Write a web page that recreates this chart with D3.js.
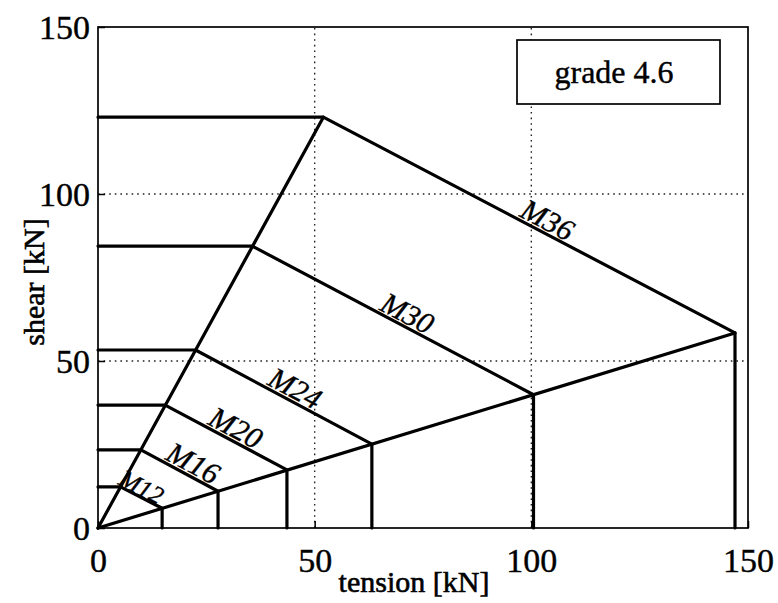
<!DOCTYPE html>
<html><head><meta charset="utf-8">
<script src="https://cdn.jsdelivr.net/npm/d3@7"></script>
<style>body{margin:0;background:#fff;}svg{display:block;}</style>
</head><body>
<svg id="c" width="778" height="603"></svg>
<script>
const bolts = ["M12","M16","M20","M24","M30","M36"];
const shearMax = [12.3, 23.4, 36.8, 53.3, 84.4, 123.0];
const tensionAtShearMax = [5.2, 9.9, 15.5, 22.5, 35.6, 52.0];
const tensionMax = [14.8, 27.7, 43.6, 63.2, 100.5, 147.0];
const shearAtTensionMax = [5.9, 11.0, 17.4, 25.1, 39.9, 58.4];
const xTicks = [0, 50, 100, 150];
const yTicks = [0, 50, 100, 150];
const legendText = "grade 4.6";

const svg = d3.select("#c");
const m = {l:98, r:748, t:27, b:528};
const x = d3.scaleLinear().domain([0,150]).range([m.l, m.r]);
const y = d3.scaleLinear().domain([0,150]).range([m.b, m.t]);
const serif = "'Liberation Serif','DejaVu Serif',serif";

// grid
const g = svg.append("g");
g.selectAll(".gx").data(xTicks.slice(1,3)).join("line")
  .attr("x1", d=>x(d)).attr("x2", d=>x(d)).attr("y1", y(0)).attr("y2", y(150))
  .attr("stroke","#222").attr("stroke-width",1.4).attr("stroke-dasharray","1.6,4");
g.selectAll(".gy").data(yTicks.slice(1,3)).join("line")
  .attr("y1", d=>y(d)).attr("y2", d=>y(d)).attr("x1", x(0)).attr("x2", x(150))
  .attr("stroke","#222").attr("stroke-width",1.4).attr("stroke-dasharray","1.6,4");

// axes (ticks inside)
const xAxis = d3.axisBottom(x).tickValues(xTicks).tickSizeInner(-7).tickSizeOuter(0).tickPadding(20).tickFormat(d3.format("d"));
const yAxis = d3.axisLeft(y).tickValues(yTicks).tickSizeInner(-7).tickSizeOuter(0).tickPadding(8).tickFormat(d3.format("d"));
const ax = svg.append("g").attr("transform",`translate(0,${y(0)})`).call(xAxis);
const ay = svg.append("g").attr("transform",`translate(${x(0)},0)`).call(yAxis);
[ax, ay].forEach(a => {
  a.select(".domain").remove();
  a.selectAll("line").attr("stroke","#000").attr("stroke-width",1.5);
  a.selectAll("text").attr("font-family", serif).attr("font-size", 34).attr("fill","#000")
    .attr("stroke","#000").attr("stroke-width",0.4);
});
ax.selectAll("text").attr("dy","0.72em");
ay.selectAll("text").attr("dy","0.34em");

// frame
svg.append("rect").attr("x", x(0)).attr("y", y(150)).attr("width", x(150)-x(0)).attr("height", y(0)-y(150))
  .attr("fill","none").attr("stroke","#000").attr("stroke-width",1.7);

// data lines
const lines = svg.append("g").attr("stroke","#000").attr("stroke-width",3.2).attr("fill","none").attr("stroke-linecap","round");
const n = bolts.length;
lines.append("line").attr("x1", x(0)).attr("y1", y(0)).attr("x2", x(tensionAtShearMax[n-1])).attr("y2", y(shearMax[n-1]));
lines.append("line").attr("x1", x(0)).attr("y1", y(0)).attr("x2", x(tensionMax[n-1])).attr("y2", y(shearAtTensionMax[n-1]));
bolts.forEach((b,i) => {
  const pts = [[0, shearMax[i]], [tensionAtShearMax[i], shearMax[i]], [tensionMax[i], shearAtTensionMax[i]], [tensionMax[i], 0]];
  lines.append("path").attr("stroke-linejoin","round").attr("d", d3.line().x(d=>x(d[0])).y(d=>y(d[1]))(pts));
});

// labels along the diagonal segments
bolts.forEach((b,i) => {
  const x1 = x(tensionAtShearMax[i]), y1 = y(shearMax[i]);
  const x2 = x(tensionMax[i]), y2 = y(shearAtTensionMax[i]);
  const f = i===0 ? 0.4 : (i===1 ? 0.6 : 0.53);
  const px = x1 + (x2-x1)*f, py = y1 + (y2-y1)*f;
  const ang = Math.atan2(y2-y1, x2-x1)*180/Math.PI;
  svg.append("text").attr("transform", `translate(${px},${py}) rotate(${ang})`)
    .attr("text-anchor","middle").attr("dy", i===0 ? -1 : -3)
    .attr("font-family", serif).attr("font-style","italic").attr("font-size", i===0?25:30)
    .attr("stroke","#000").attr("stroke-width",0.4)
    .text(b);
});

// legend
svg.append("rect").attr("x", 517).attr("y", 40).attr("width", 203).attr("height", 64)
  .attr("fill","#fff").attr("stroke","#000").attr("stroke-width",1.7);
svg.append("text").attr("x", 614).attr("y", 83).attr("text-anchor","middle")
  .attr("font-family", serif).attr("font-size", 32).attr("stroke","#000").attr("stroke-width",0.4).text(legendText);

// axis titles
svg.append("text").attr("x", 414).attr("y", 592).attr("text-anchor","middle")
  .attr("font-family", serif).attr("font-size", 30).attr("stroke","#000").attr("stroke-width",0.6).text("tension [kN]");
svg.append("text").attr("transform", `translate(44,282) rotate(-90)`).attr("text-anchor","middle")
  .attr("font-family", serif).attr("font-size", 30).attr("stroke","#000").attr("stroke-width",0.6).text("shear [kN]");
</script>
</body></html>
